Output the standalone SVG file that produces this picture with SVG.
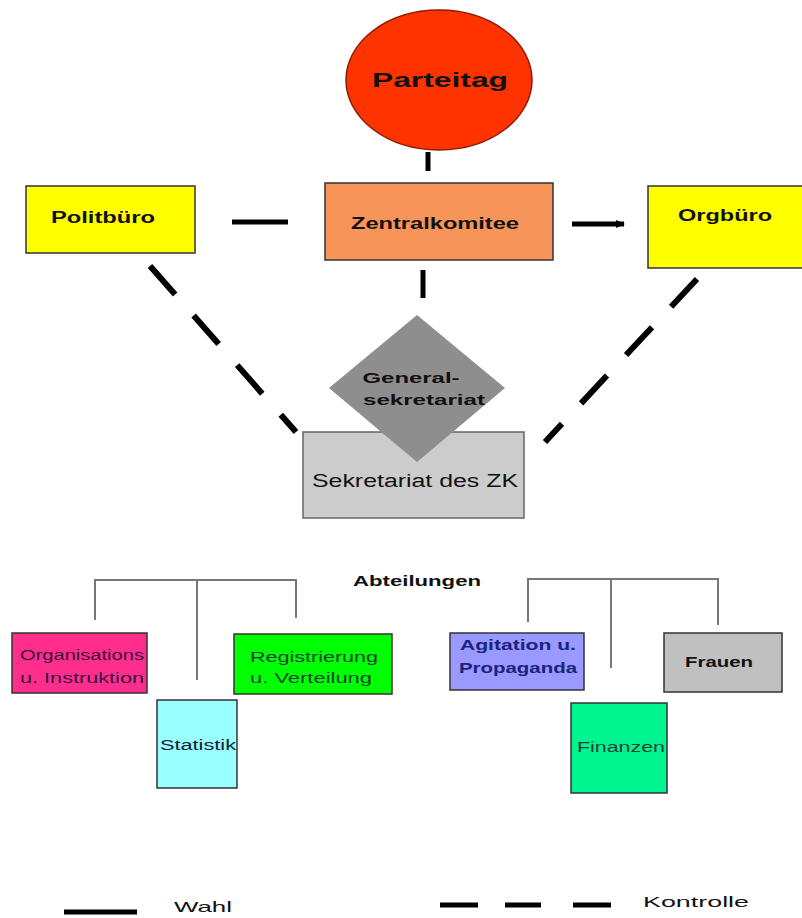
<svg xmlns="http://www.w3.org/2000/svg" width="802" height="918" viewBox="0 0 802 918">
<defs>
<style>
text{font-family:"Liberation Sans",Arial,sans-serif;fill:#111;text-anchor:middle}
.b{font-weight:bold}
.box{stroke:#333;stroke-width:1.5}
.conn{stroke:#000;stroke-width:5;fill:none}
.dash{stroke:#000;stroke-width:6;fill:none;stroke-dasharray:38 28}
.br{stroke:#777;stroke-width:2;fill:none}
</style>
<marker id="ah" markerWidth="9" markerHeight="10" refX="8" refY="5" orient="auto" markerUnits="userSpaceOnUse">
<path d="M0,1 L9,5 L0,9 z" fill="#000"/>
</marker>
</defs>
<rect width="802" height="918" fill="#fff"/>
<g id="connectors">
<line class="conn" x1="428" y1="152" x2="428" y2="171"/>
<line class="conn" x1="232" y1="222" x2="288" y2="222"/>
<line class="conn" x1="572" y1="224" x2="624" y2="224" stroke-width="4" marker-end="url(#ah)"/>
<line class="conn" x1="423" y1="270" x2="423" y2="298"/>
<line class="dash" x1="150" y1="266" x2="296" y2="432"/>
<line class="dash" x1="697" y1="279" x2="545" y2="442"/>
<path class="br" d="M95,620 V580 H296 V618 M197,580 V680"/>
<path class="br" d="M528,622 V579 H718 V625 M611,579 V668"/>
</g>
<g id="parteitag">
<ellipse cx="439" cy="80" rx="93" ry="70" fill="#FF3300" stroke="#8a1a00" stroke-width="1.5"/>
<text x="440" y="87" class="b" font-size="21" textLength="136" lengthAdjust="spacingAndGlyphs">Parteitag</text>
</g>
<g id="zentralkomitee">
<rect class="box" x="325" y="183" width="228" height="77" fill="#F7945A"/>
<text x="435" y="229" class="b" font-size="16" textLength="168" lengthAdjust="spacingAndGlyphs">Zentralkomitee</text>
</g>
<g id="politbuero">
<rect class="box" x="26" y="186" width="169" height="67" fill="#FFFF00"/>
<text x="103" y="223" class="b" font-size="16" textLength="104" lengthAdjust="spacingAndGlyphs">Politbüro</text>
</g>
<g id="orgbuero">
<rect class="box" x="648" y="186" width="160" height="82" fill="#FFFF00"/>
<text x="725" y="221" class="b" font-size="16" textLength="94" lengthAdjust="spacingAndGlyphs">Orgbüro</text>
</g>
<g id="sekretariat">
<rect x="303" y="432" width="221" height="86" fill="#CCCCCC" stroke="#666" stroke-width="1.5"/>
<text x="415" y="487" font-size="18" textLength="206" lengthAdjust="spacingAndGlyphs">Sekretariat des ZK</text>
</g>
<g id="generalsekretariat">
<polygon points="417,315 505,388 417,462 329,388" fill="#8E8E8E"/>
<text x="411" y="383" class="b" font-size="15" textLength="97" lengthAdjust="spacingAndGlyphs">General-</text>
<text x="424" y="405" class="b" font-size="15" textLength="122" lengthAdjust="spacingAndGlyphs">sekretariat</text>
</g>
<g id="abteilungen">
<text x="417" y="586" class="b" font-size="15" textLength="128" lengthAdjust="spacingAndGlyphs">Abteilungen</text>
</g>
<g id="organisation">
<rect class="box" x="12" y="633" width="135" height="60" fill="#FF2E8C"/>
<text x="82" y="660" font-size="14" style="fill:#3a1040" textLength="124" lengthAdjust="spacingAndGlyphs">Organisations</text>
<text x="82" y="683" font-size="14" style="fill:#3a1040" textLength="124" lengthAdjust="spacingAndGlyphs">u. Instruktion</text>
</g>
<g id="statistik">
<rect class="box" x="157" y="700" width="80" height="88" fill="#99FFFF"/>
<text x="198" y="750" font-size="14" style="fill:#123" textLength="76" lengthAdjust="spacingAndGlyphs">Statistik</text>
</g>
<g id="registrierung">
<rect class="box" x="234" y="634" width="158" height="60" fill="#00FF00"/>
<text x="314" y="662" font-size="14" style="fill:#143" textLength="128" lengthAdjust="spacingAndGlyphs">Registrierung</text>
<text x="311" y="683" font-size="14" style="fill:#143" textLength="122" lengthAdjust="spacingAndGlyphs">u. Verteilung</text>
</g>
<g id="agitation">
<rect class="box" x="450" y="633" width="134" height="57" fill="#9999FF"/>
<text x="518" y="650" class="b" font-size="14" style="fill:#1a237e" textLength="116" lengthAdjust="spacingAndGlyphs">Agitation u.</text>
<text x="518" y="673" class="b" font-size="14" style="fill:#1a237e" textLength="118" lengthAdjust="spacingAndGlyphs">Propaganda</text>
</g>
<g id="frauen">
<rect class="box" x="664" y="633" width="118" height="59" fill="#C0C0C0"/>
<text x="719" y="667" class="b" font-size="14" textLength="68" lengthAdjust="spacingAndGlyphs">Frauen</text>
</g>
<g id="finanzen">
<rect class="box" x="571" y="703" width="96" height="90" fill="#00F590"/>
<text x="621" y="752" font-size="14" style="fill:#143" textLength="88" lengthAdjust="spacingAndGlyphs">Finanzen</text>
</g>
<g id="legend">
<line class="conn" x1="64" y1="912" x2="137" y2="912"/>
<text x="203" y="912" font-size="15" textLength="58" lengthAdjust="spacingAndGlyphs">Wahl</text>
<line class="conn" x1="440" y1="905" x2="478" y2="905" stroke-width="6"/>
<line class="conn" x1="505" y1="905" x2="541" y2="905" stroke-width="6"/>
<line class="conn" x1="573" y1="905" x2="611" y2="905" stroke-width="6"/>
<text x="696" y="907" font-size="15" textLength="106" lengthAdjust="spacingAndGlyphs">Kontrolle</text>
</g>
</svg>
